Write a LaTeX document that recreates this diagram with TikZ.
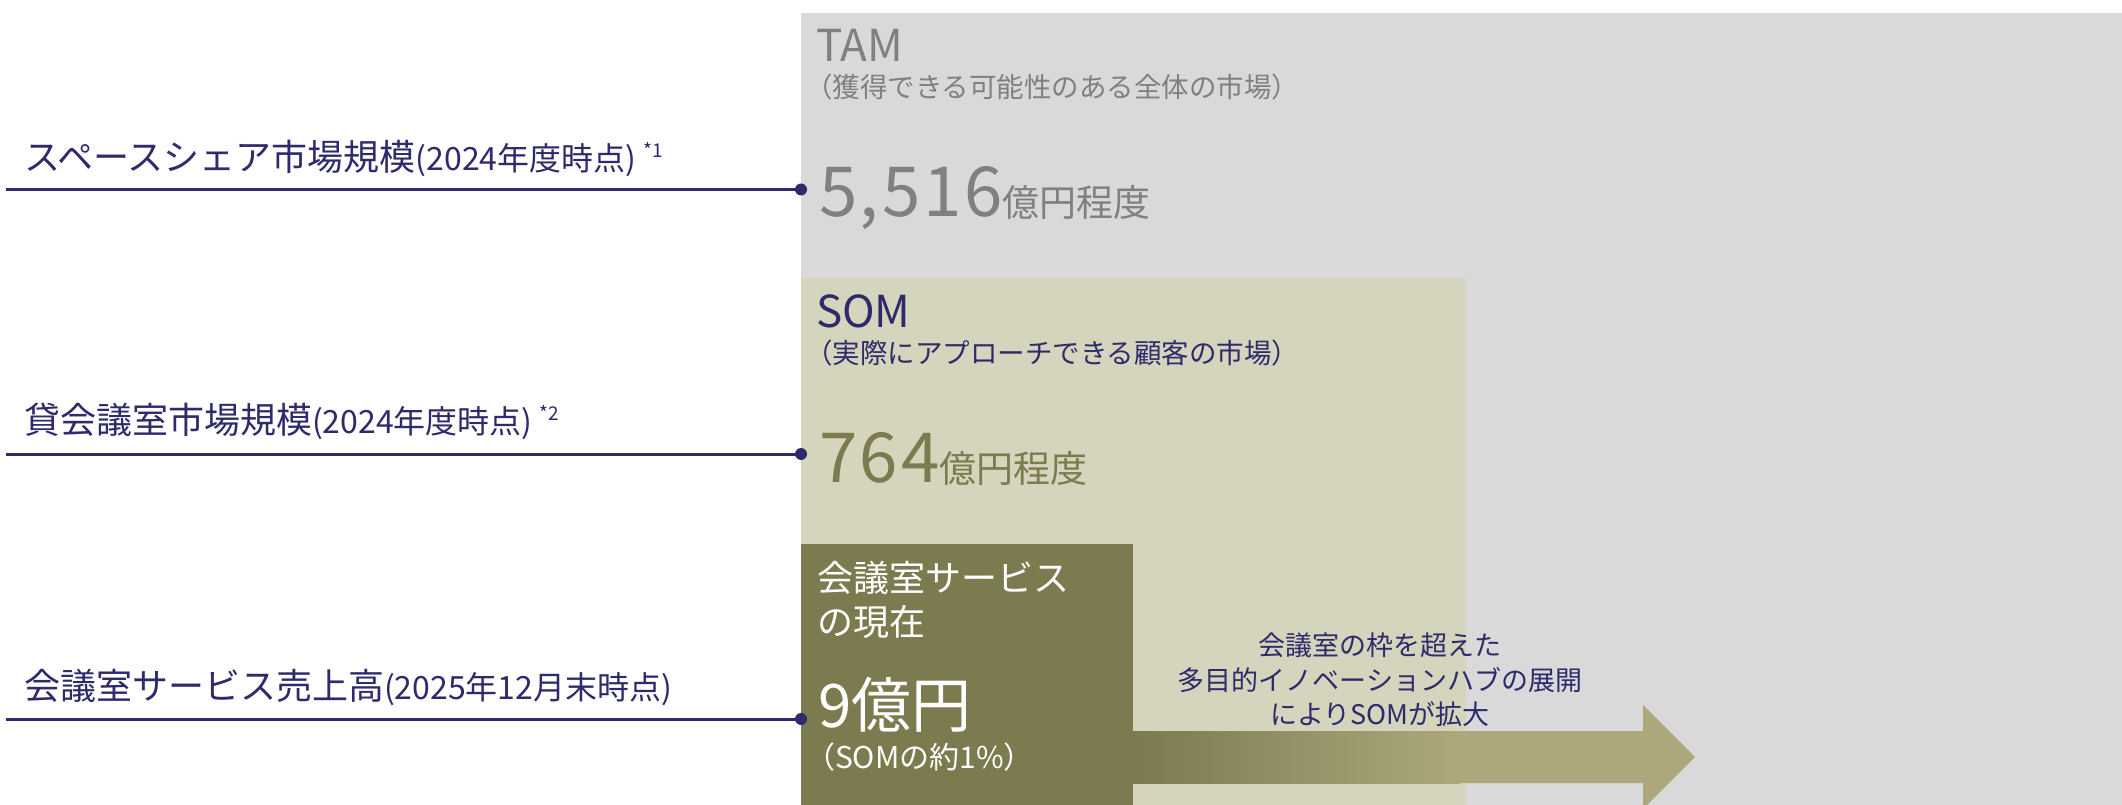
\documentclass[tikz,border=0pt]{standalone}
\usepackage{fontspec}
\setmainfont{Noto Sans CJK JP}
\newfontfamily\bigdig[LetterSpace=4]{Noto Sans CJK JP}
\definecolor{navy}{HTML}{2E2A6B}
\definecolor{tamgray}{HTML}{D9D9D9}
\definecolor{somtan}{HTML}{D5D4BC}
\definecolor{olive}{HTML}{7B7B4F}
\definecolor{olivelight}{HTML}{ACA87C}
\definecolor{txtgray}{HTML}{808080}
\newcommand\fs[1]{\fontsize{#1}{#1}\selectfont}
\begin{document}
\begin{tikzpicture}[x=1pt,y=-1pt,
  txt/.style={anchor=base west, inner sep=0pt, outer sep=0pt},
  ctxt/.style={anchor=base, inner sep=0pt, outer sep=0pt, navy},
  leader/.style={navy, line width=3pt},
  leaderdot/.style={navy}]
\useasboundingbox (0,0) rectangle (2122,805);
\clip (0,0) rectangle (2122,805);
\fill[white] (0,0) rectangle (2122,805);
% market areas
\fill[tamgray] (801,13) rectangle (2122,805);
\fill[somtan] (801,278) rectangle (1466,805);
% arrow
\fill[olivelight] (1133,731) -- (1643,731) -- (1643,705) -- (1695,757) -- (1643,809) -- (1643,783) -- (1133,783) -- cycle;
\shade[left color=olive, right color=olivelight] (1133,731) rectangle (1460,783);
\fill[olive] (801,544) rectangle (1133,805);
% TAM
\node[txt, txtgray] (tam) at (816,62) {\fs{44}TAM};
\node[txt, txtgray] (tamsub) at (805,98) {\fs{27.5}（獲得できる可能性のある全体の市場）};
\node[txt, txtgray] (tamval) at (819,217) {{\bigdig\fs{69}5,516}\fs{37}億円程度};
% SOM
\node[txt, navy] (som) at (816,327) {\fs{44}SOM};
\node[txt, navy] (somsub) at (805,363) {\fs{27.5}（実際にアプローチできる顧客の市場）};
\node[txt, olive] (somval) at (819,482) {{\bigdig\fs{69}764}\fs{37}億円程度};
% current
\node[txt, white] (cur1) at (817,591) {\fs{36}会議室サービス};
\node[txt, white] (cur2) at (817,635) {\fs{36}の現在};
\node[txt, white] (curval) at (818,727) {\fs{60}9億円};
\node[txt, white] (curpct) at (805,768) {\fs{30}（SOMの約1\%）};
% arrow text
\node[ctxt] (ar1) at (1380,655) {\fs{27}会議室の枠を超えた};
\node[ctxt] (ar2) at (1380,690) {\fs{27}多目的イノベーションハブの展開};
\node[ctxt] (ar3) at (1380,724) {\fs{27}によりSOMが拡大};
% left labels
\node[txt, navy] (lab1) at (24,171) {\fs{36}スペースシェア市場規模\fs{32}(2024年度時点)\hspace{7pt}\raisebox{13pt}{\fs{19}*1}};
\node[txt, navy] (lab2) at (24,433) {\fs{36}貸会議室市場規模\fs{32}(2024年度時点)\hspace{7pt}\raisebox{13pt}{\fs{19}*2}};
\node[txt, navy] (lab3) at (24,699) {\fs{36}会議室サービス売上高\fs{32}(2025年12月末時点)};
% leaders
\coordinate (l1a) at (6,189.5); \coordinate (l1b) at (801,189.5);
\coordinate (l2a) at (6,454); \coordinate (l2b) at (801,454);
\coordinate (l3a) at (6,719); \coordinate (l3b) at (801,719);
\draw[leader] (l1a) -- (l1b);
\draw[leader] (l2a) -- (l2b);
\draw[leader] (l3a) -- (l3b);
\fill[leaderdot] (l1b) circle (6);
\fill[leaderdot] (l2b) circle (6);
\fill[leaderdot] (l3b) circle (6);
\end{tikzpicture}
\end{document}
